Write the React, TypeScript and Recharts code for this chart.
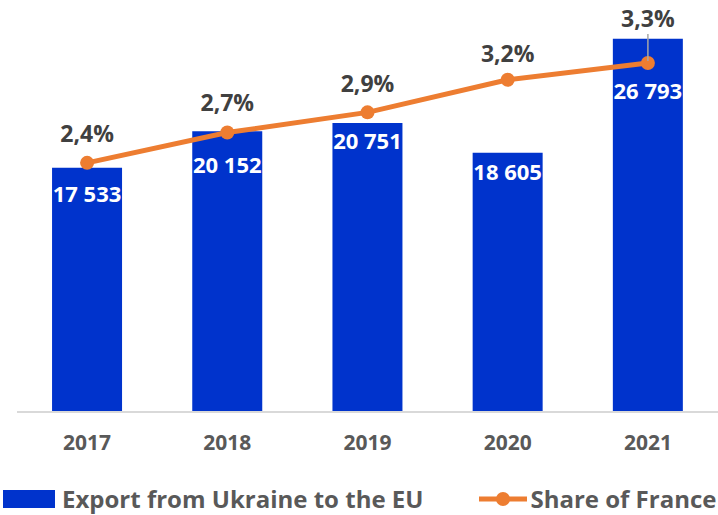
import React from 'react';
import {
    ComposedChart,
    Bar,
    Line,
    XAxis,
    YAxis,
    Legend,
    LabelList,
} from 'recharts';

const years = ['2017', '2018', '2019', '2020', '2021'];
const exportValues = [17533, 20152, 20751, 18605, 26793];
const franceShare = [2.42, 2.69, 2.87, 3.16, 3.31];

// how far each bar label sits below the top of its bar (as in the source layout)
const barLabelOffsets = [25, 33, 17, 18, 51];
const shareLabelOffsets = [30, 31, 29, 27, 45];

const data = years.map((year, i) => ({
    year,
    exports: exportValues[i],
    share: franceShare[i],
}));

const FONT = '"Open Sans", sans-serif';
const BLUE = '#0033cc';
const ORANGE = '#ed7d31';

const formatThousands = (v: number) =>
    `${Math.floor(v / 1000)} ${String(v % 1000).padStart(3, '0')}`;

const formatShare = (v: number) => `${v.toFixed(1).replace('.', ',')}%`;

function BarValueLabel(props: any) {
    const { x, y, width, value, index } = props;
    return (
        <text
            x={x + width / 2}
            y={y + barLabelOffsets[index]}
            textAnchor="middle"
            dominantBaseline="central"
            fill="#ffffff"
            fontFamily={FONT}
            fontWeight={700}
            fontSize={22}
        >
            {formatThousands(value)}
        </text>
    );
}

function ShareLabel(props: any) {
    const { x, y, value, index } = props;
    const off = shareLabelOffsets[index];
    return (
        <g>
            {off > 35 && (
                <line x1={x} y1={y - off + 16} x2={x} y2={y - 2} stroke="#a6a6a6" strokeWidth={1.5} />
            )}
            <text
                x={x}
                y={y - off}
                textAnchor="middle"
                dominantBaseline="central"
                fill="#404040"
                fontFamily={FONT}
                fontWeight={700}
                fontSize={23}
            >
                {formatShare(value)}
            </text>
        </g>
    );
}

function ChartLegend() {
    return (
        <div
            style={{
                display: 'flex',
                alignItems: 'center',
                height: 53,
                paddingTop: 20,
                boxSizing: 'border-box',
                fontFamily: FONT,
                fontWeight: 700,
                fontSize: 24,
                color: '#595959',
                whiteSpace: 'nowrap',
            }}
        >
            <span style={{ display: 'inline-block', width: 52, height: 18, background: BLUE, marginLeft: 3, marginRight: 7 }} />
            <span>Export from Ukraine to the EU</span>
            <svg width={48} height={20} style={{ marginLeft: 56, marginRight: 3, flexShrink: 0 }}>
                <line x1={0} y1={10} x2={48} y2={10} stroke={ORANGE} strokeWidth={5} />
                <circle cx={24} cy={10} r={7} fill={ORANGE} />
            </svg>
            <span>Share of France</span>
        </div>
    );
}

export default function App() {
    return (
        <div style={{ position: 'absolute', left: 0, top: 0, width: 718, height: 515, background: '#fff', overflow: 'hidden' }}>
            <ComposedChart
                width={718}
                height={515}
                data={data}
                margin={{ top: 8, right: 0, bottom: 0, left: 17 }}
                barCategoryGap="25%"
            >
                <XAxis
                    dataKey="year"
                    height={50}
                    tickLine={false}
                    tickSize={0}
                    tickMargin={23}
                    axisLine={{ stroke: '#d9d9d9', strokeWidth: 2 }}
                    tick={{ fill: '#595959', fontFamily: FONT, fontWeight: 700, fontSize: 21 }}
                />
                <YAxis yAxisId="left" hide domain={[0, 29000]} />
                <YAxis yAxisId="right" hide orientation="right" domain={[0.2, 3.8]} />
                <Legend
                    verticalAlign="bottom"
                    align="left"
                    height={53}
                    wrapperStyle={{ left: 0, width: 718, overflow: 'hidden' }}
                    content={() => <ChartLegend />}
                />
                <Bar yAxisId="left" dataKey="exports" fill={BLUE} isAnimationActive={false}>
                    <LabelList dataKey="exports" content={<BarValueLabel />} />
                </Bar>
                <Line
                    yAxisId="right"
                    dataKey="share"
                    stroke={ORANGE}
                    strokeWidth={5}
                    dot={{ r: 7, fill: ORANGE, stroke: ORANGE, strokeWidth: 0 }}
                    isAnimationActive={false}
                >
                    <LabelList dataKey="share" content={<ShareLabel />} />
                </Line>
            </ComposedChart>
        </div>
    );
}
